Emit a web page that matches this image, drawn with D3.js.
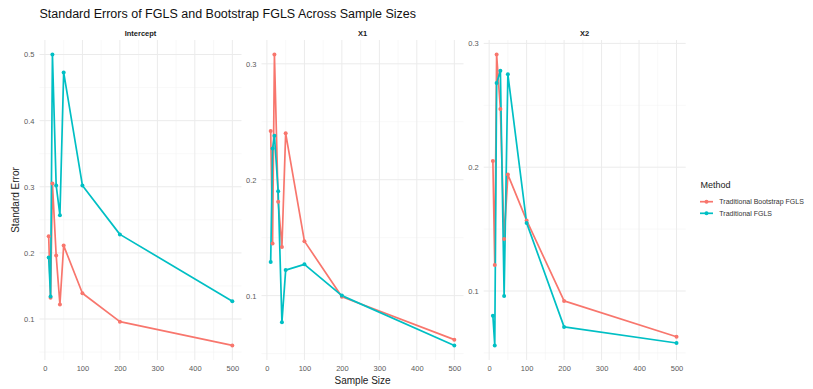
<!DOCTYPE html>
<html>
<head>
<meta charset="utf-8">
<script src="https://cdn.jsdelivr.net/npm/d3@7"></script>
<style>
  html, body { margin: 0; padding: 0; background: #ffffff; }
  svg { display: block; font-family: "Liberation Sans", Arial, sans-serif; }
</style>
</head>
<body>
<svg id="chart" width="813" height="389"></svg>
<script>
// ---- data ----
const sampleSizes = [10, 15, 20, 30, 40, 50, 100, 200, 500];
const panelNames = ["Intercept", "X1", "X2"];
const methods = ["Traditional Bootstrap FGLS", "Traditional FGLS"];
const interceptBoot = [0.225, 0.132, 0.305, 0.196, 0.122, 0.211, 0.139, 0.096, 0.060];
const interceptFGLS = [0.193, 0.134, 0.500, 0.302, 0.257, 0.473, 0.302, 0.228, 0.127];
const x1Boot = [0.242, 0.145, 0.308, 0.181, 0.142, 0.240, 0.147, 0.099, 0.062];
const x1FGLS = [0.129, 0.227, 0.238, 0.190, 0.077, 0.122, 0.127, 0.100, 0.057];
const x2Boot = [0.205, 0.121, 0.291, 0.247, 0.142, 0.194, 0.157, 0.092, 0.063];
const x2FGLS = [0.080, 0.056, 0.268, 0.278, 0.096, 0.275, 0.155, 0.071, 0.058];
const xTicks = [0, 100, 200, 300, 400, 500];
const yTicksIntercept = [0.1, 0.2, 0.3, 0.4, 0.5];
const yTicksX1 = [0.1, 0.2, 0.3];
const yTicksX2 = [0.1, 0.2, 0.3];

const title = "Standard Errors of FGLS and Bootstrap FGLS Across Sample Sizes";
const xTitle = "Sample Size";
const yTitle = "Standard Error";
const legendTitle = "Method";

// ---- layout ----
const colors = { "Traditional Bootstrap FGLS": "#F8766D", "Traditional FGLS": "#00BFC4" };
const panelTop = 40, panelBottom = 360;
const panelWidth = 202;
const panelLefts = [39.5, 261.5, 483.7];

const panelData = [
  { name: panelNames[0], boot: interceptBoot, fgls: interceptFGLS, yTicks: yTicksIntercept },
  { name: panelNames[1], boot: x1Boot, fgls: x1FGLS, yTicks: yTicksX1 },
  { name: panelNames[2], boot: x2Boot, fgls: x2FGLS, yTicks: yTicksX2 }
];

const svg = d3.select("#chart");

function expand(ext) {
  const d = (ext[1] - ext[0]) * 0.05;
  return [ext[0] - d, ext[1] + d];
}

panelData.forEach((p, i) => {
  const left = panelLefts[i];
  const x = d3.scaleLinear().domain(expand(d3.extent(sampleSizes))).range([left, left + panelWidth]);
  const allY = p.boot.concat(p.fgls);
  const y = d3.scaleLinear().domain(expand(d3.extent(allY))).range([panelBottom, panelTop]);
  const g = svg.append("g");

  // minor grid
  const xMinor = [];
  for (let k = 0; k < xTicks.length - 1; k++) xMinor.push((xTicks[k] + xTicks[k + 1]) / 2);
  const yStep = p.yTicks[1] - p.yTicks[0];
  const yMinor = [p.yTicks[0] - yStep / 2];
  for (let k = 0; k < p.yTicks.length; k++) yMinor.push(p.yTicks[k] + yStep / 2);
  const yd = y.domain();
  g.selectAll(".xminor").data(xMinor).enter().append("line")
    .attr("x1", d => x(d)).attr("x2", d => x(d))
    .attr("y1", panelTop).attr("y2", panelBottom)
    .attr("stroke", "#f4f4f4").attr("stroke-width", 0.6);
  g.selectAll(".yminor").data(yMinor.filter(v => v > yd[0] && v < yd[1])).enter().append("line")
    .attr("x1", left).attr("x2", left + panelWidth)
    .attr("y1", d => y(d)).attr("y2", d => y(d))
    .attr("stroke", "#f4f4f4").attr("stroke-width", 0.6);
  // major grid
  g.selectAll(".xmajor").data(xTicks).enter().append("line")
    .attr("x1", d => x(d)).attr("x2", d => x(d))
    .attr("y1", panelTop).attr("y2", panelBottom)
    .attr("stroke", "#ebebeb").attr("stroke-width", 1);
  g.selectAll(".ymajor").data(p.yTicks).enter().append("line")
    .attr("x1", left).attr("x2", left + panelWidth)
    .attr("y1", d => y(d)).attr("y2", d => y(d))
    .attr("stroke", "#ebebeb").attr("stroke-width", 1);

  // axes labels via d3 axes
  const xAxis = d3.axisBottom(x).tickValues(xTicks).tickSize(0).tickPadding(6).tickFormat(d3.format("d"));
  const xa = g.append("g").attr("transform", `translate(0,${panelBottom})`).call(xAxis);
  xa.select(".domain").remove();
  xa.selectAll("text").attr("fill", "#5a5a5a").attr("font-size", "7.5px").attr("font-family", "Liberation Sans, Arial, sans-serif");

  const yAxis = d3.axisLeft(y).tickValues(p.yTicks).tickSize(0).tickPadding(5).tickFormat(d3.format(".1f"));
  const ya = g.append("g").attr("transform", `translate(${left},0)`).call(yAxis);
  ya.select(".domain").remove();
  ya.selectAll("text").attr("fill", "#5a5a5a").attr("font-size", "7.5px").attr("font-family", "Liberation Sans, Arial, sans-serif");

  // strip label
  g.append("text").attr("x", left + panelWidth / 2).attr("y", 35.5)
    .attr("text-anchor", "middle").attr("font-size", "7.5px").attr("font-weight", "bold")
    .attr("fill", "#1a1a1a").text(p.name);

  const series = [
    { method: methods[0], vals: p.boot },
    { method: methods[1], vals: p.fgls }
  ];
  const line = d3.line().x(d => x(d[0])).y(d => y(d[1]));
  series.forEach(s => {
    const pts = sampleSizes.map((n, k) => [n, s.vals[k]]);
    g.append("path").datum(pts).attr("d", line)
      .attr("fill", "none").attr("stroke", colors[s.method])
      .attr("stroke-width", 1.7).attr("stroke-linejoin", "round");
  });
  series.forEach(s => {
    const pts = sampleSizes.map((n, k) => [n, s.vals[k]]);
    g.selectAll(null).data(pts).enter().append("circle")
      .attr("cx", d => x(d[0])).attr("cy", d => y(d[1])).attr("r", 2)
      .attr("fill", colors[s.method]);
  });
});

// titles
svg.append("text").attr("x", 39.5).attr("y", 17.5)
  .attr("font-size", "12.5px").attr("fill", "#111").text(title);
svg.append("text").attr("x", (panelLefts[0] + panelLefts[2] + panelWidth) / 2).attr("y", 384)
  .attr("text-anchor", "middle").attr("font-size", "10px").attr("fill", "#222").text(xTitle);
svg.append("text").attr("transform", `translate(19,${(panelTop + panelBottom) / 2}) rotate(-90)`)
  .attr("text-anchor", "middle").attr("font-size", "10px").attr("fill", "#222").text(yTitle);

// legend
const lg = svg.append("g");
lg.append("text").attr("x", 700.5).attr("y", 188).attr("font-size", "9px").attr("fill", "#222").text(legendTitle);
methods.forEach((m, i) => {
  const cy = 201.7 + i * 11.6;
  lg.append("line").attr("x1", 700).attr("x2", 713).attr("y1", cy).attr("y2", cy)
    .attr("stroke", colors[m]).attr("stroke-width", 1.7);
  lg.append("circle").attr("cx", 706.5).attr("cy", cy).attr("r", 2).attr("fill", colors[m]);
  lg.append("text").attr("x", 719.3).attr("y", cy + 2.5).attr("font-size", "7px").attr("fill", "#333").text(m);
});
</script>
</body>
</html>
